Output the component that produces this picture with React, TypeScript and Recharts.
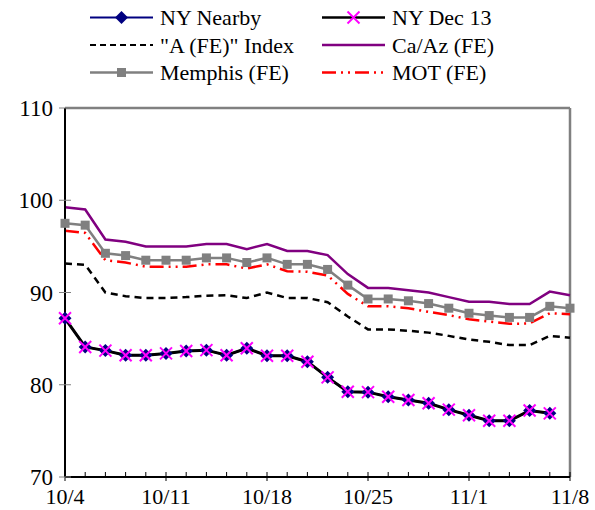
import { LineChart, Line, XAxis, YAxis, ReferenceLine } from "recharts";

const dates = [
  "10/4", "10/5", "10/6", "10/7", "10/8",
  "10/11", "10/12", "10/13", "10/14", "10/15",
  "10/18", "10/19", "10/20", "10/21", "10/22",
  "10/25", "10/26", "10/27", "10/28", "10/29",
  "11/1", "11/2", "11/3", "11/4", "11/5",
  "11/8",
];
const nyNearby = [87.2, 84.1, 83.7, 83.2, 83.2, 83.4, 83.65, 83.75, 83.2, 83.95, 83.15, 83.15, 82.5, 80.8, 79.25, 79.2, 78.7, 78.35, 78.0, 77.3, 76.7, 76.1, 76.1, 77.2, 76.9, null];
const nyDec13 = [87.2, 84.1, 83.7, 83.2, 83.2, 83.4, 83.65, 83.75, 83.2, 83.95, 83.15, 83.15, 82.5, 80.8, 79.25, 79.2, 78.7, 78.35, 78.0, 77.3, 76.7, 76.1, 76.1, 77.2, 76.9, null];
const aIndex = [93.15, 93.0, 90.0, 89.6, 89.4, 89.4, 89.5, 89.65, 89.7, 89.4, 90.0, 89.4, 89.4, 88.95, 87.4, 86.0, 86.0, 85.85, 85.65, 85.3, 84.9, 84.65, 84.3, 84.3, 85.3, 85.1];
const caAz = [99.25, 99.0, 95.75, 95.5, 95.0, 95.0, 95.0, 95.25, 95.25, 94.7, 95.25, 94.5, 94.5, 94.05, 92.0, 90.5, 90.5, 90.25, 90.0, 89.5, 89.0, 89.0, 88.75, 88.75, 90.1, 89.7];
const memphis = [97.5, 97.3, 94.25, 94.0, 93.5, 93.5, 93.5, 93.75, 93.75, 93.25, 93.75, 93.05, 93.05, 92.5, 90.8, 89.3, 89.3, 89.1, 88.8, 88.3, 87.75, 87.5, 87.3, 87.3, 88.5, 88.3];
const mot = [96.7, 96.45, 93.5, 93.25, 92.8, 92.8, 92.8, 93.05, 93.05, 92.6, 93.05, 92.3, 92.25, 91.85, 89.85, 88.5, 88.5, 88.3, 87.9, 87.55, 87.1, 86.85, 86.6, 86.65, 87.75, 87.65];
const yTicks = [70, 80, 90, 100, 110];

const data = dates.map((d, i) => ({
  date: d,
  nyNearby: nyNearby[i],
  nyDec13: nyDec13[i],
  aIndex: aIndex[i],
  caAz: caAz[i],
  memphis: memphis[i],
  mot: mot[i],
}));

const FONT = "\"Liberation Serif\", \"Times New Roman\", \"DejaVu Serif\", serif";
const NAVY = "#000080";
const MAGENTA = "#FF00FF";
const PURPLE = "#800080";
const GRAY = "#808080";
const RED = "#FF0000";
const MOT_DASH = "14 5 2 5 2 5";

const diamond = (cx: number, cy: number, k?: string) => (
  <path key={k} d={`M${cx},${cy - 6.5}L${cx + 6.5},${cy}L${cx},${cy + 6.5}L${cx - 6.5},${cy}Z`} fill={NAVY} />
);
const cross = (cx: number, cy: number, k?: string) => (
  <g key={k} stroke={MAGENTA} strokeWidth={2}>
    <line x1={cx - 6} y1={cy - 6} x2={cx + 6} y2={cy + 6} />
    <line x1={cx - 6} y1={cy + 6} x2={cx + 6} y2={cy - 6} />
  </g>
);
const square = (cx: number, cy: number, k?: string) => (
  <rect key={k} x={cx - 4.5} y={cy - 4.5} width={9} height={9} fill={GRAY} />
);

const dotWith = (fn: typeof diamond) => (p: any) => {
  if (p.value == null || p.cy == null || p.cx == null) return <g key={`e-${p.index}`} />;
  return fn(p.cx, p.cy, `m-${p.index}`);
};

const XTick = ({ x, y, payload, index }: any) => (
  <g>
    <line x1={x} x2={x} y1={y - 5} y2={y + (index % 5 === 0 ? 4 : 0)} stroke="#000" strokeWidth={1} />
    {index % 5 === 0 && (
      <text x={x} y={y + 27} textAnchor="middle" style={{ fontFamily: FONT }} fontSize={22} fill="#000">
        {payload.value}
      </text>
    )}
  </g>
);

const YTick = ({ x, y, payload }: any) => (
  <g>
    <line x1={x - 6} x2={x + 6} y1={y} y2={y} stroke={GRAY} strokeWidth={1} />
    <text x={x - 12} y={y + 8} textAnchor="end" style={{ fontFamily: FONT }} fontSize={23} fill="#000">
      {payload.value}
    </text>
  </g>
);

const legendItems = [
  { name: "NY Nearby", color: NAVY, dash: undefined, width: 2, marker: diamond },
  { name: "NY Dec 13", color: "#000", dash: undefined, width: 2.5, marker: cross },
  { name: "\"A (FE)\" Index", color: "#000", dash: "6 4", width: 2, marker: null },
  { name: "Ca/Az (FE)", color: PURPLE, dash: undefined, width: 2.5, marker: null },
  { name: "Memphis (FE)", color: GRAY, dash: undefined, width: 2.5, marker: square },
  { name: "MOT (FE)", color: RED, dash: MOT_DASH, width: 2.5, marker: null },
];

const LegendBox = () => (
  <svg width={595} height={95} style={{ position: "absolute", left: 0, top: 0 }}>
    {legendItems.map((it, i) => {
      const col = i % 2;
      const row = Math.floor(i / 2);
      const x0 = col === 0 ? 90 : 322;
      const y = 17.5 + row * 27.5;
      return (
        <g key={it.name}>
          <line x1={x0} x2={x0 + 63} y1={y} y2={y} stroke={it.color} strokeWidth={it.width} strokeDasharray={it.dash} />
          {it.marker && it.marker(x0 + 31.5, y)}
          <text x={x0 + 70} y={y + 7.5} style={{ fontFamily: FONT }} fontSize={22} fill="#000">{it.name}</text>
        </g>
      );
    })}
  </svg>
);

export default function App() {
  return (
    <div style={{ position: "absolute", left: 0, top: 0, width: 595, height: 510, background: "#fff", fontFamily: FONT }}>
      <LineChart width={595} height={510} data={data} margin={{ top: 108, right: 25, bottom: 5, left: 0 }}>
        <XAxis
          dataKey="date"
          interval={0}
          height={28}
          tickSize={0}
          tickMargin={0}
          tickLine={false}
          tick={<XTick />}
          axisLine={{ stroke: "#000", strokeWidth: 2 }}
        />
        <YAxis
          domain={[70, 110]}
          ticks={yTicks}
          width={65}
          tickSize={0}
          tickMargin={0}
          tickLine={false}
          tick={<YTick />}
          axisLine={{ stroke: "#000", strokeWidth: 2 }}
          allowDataOverflow
        />
        <ReferenceLine y={110} stroke={GRAY} strokeWidth={2.5} />
        <ReferenceLine x="11/8" stroke={GRAY} strokeWidth={2.5} />
        <Line dataKey="nyNearby" name="NY Nearby" stroke={NAVY} strokeWidth={2} dot={dotWith(diamond)} activeDot={false} isAnimationActive={false} />
        <Line dataKey="nyDec13" name="NY Dec 13" stroke="#000" strokeWidth={3} dot={dotWith(cross)} activeDot={false} isAnimationActive={false} />
        <Line dataKey="aIndex" name={"\"A (FE)\" Index"} stroke="#000" strokeWidth={2.5} strokeDasharray="7 5" dot={false} activeDot={false} isAnimationActive={false} />
        <Line dataKey="caAz" name="Ca/Az (FE)" stroke={PURPLE} strokeWidth={2.5} dot={false} activeDot={false} isAnimationActive={false} />
        <Line dataKey="memphis" name="Memphis (FE)" stroke={GRAY} strokeWidth={2.5} dot={dotWith(square)} activeDot={false} isAnimationActive={false} />
        <Line dataKey="mot" name="MOT (FE)" stroke={RED} strokeWidth={2.5} strokeDasharray={MOT_DASH} dot={false} activeDot={false} isAnimationActive={false} />
      </LineChart>
      <LegendBox />
    </div>
  );
}
